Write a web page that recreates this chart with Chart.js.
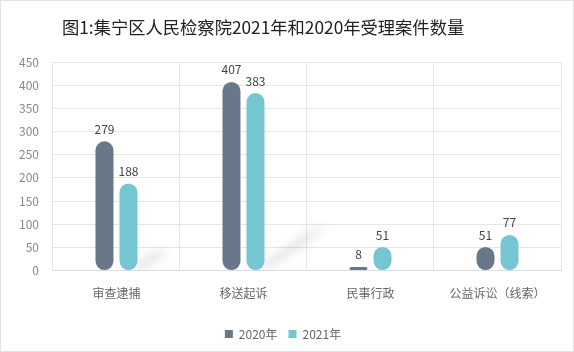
<!DOCTYPE html>
<html>
<head>
<meta charset="utf-8">
<script src="https://cdn.jsdelivr.net/npm/chart.js@4"></script>
<style>
    html, body { margin: 0; padding: 0; background: #fff; }
    .frame { position: relative; width: 572px; height: 350px; border: 1px solid #e2e2e2; }
    .title {
        position: absolute; left: 61px; top: 14px;
        font: 17.3px "Noto Sans CJK SC", "Noto Sans", sans-serif;
        color: #222; white-space: nowrap; line-height: 24px;
    }
    canvas { display: block; }
</style>
</head>
<body>
<div class="frame">
    <canvas id="caseChart" width="572" height="350"></canvas>
    <div class="title">图1:集宁区人民检察院2021年和2020年受理案件数量</div>
</div>
<script>
    const categories = ['审查逮捕', '移送起诉', '民事行政', '公益诉讼（线索）'];
    const values2020 = [279, 407, 8, 51];
    const values2021 = [188, 383, 51, 77];
    const yTicks = [0, 50, 100, 150, 200, 250, 300, 350, 400, 450];

    const CJK = '"Noto Sans CJK SC", "Noto Sans", sans-serif';

    // soft diagonal shadow behind the right-hand bar of each group
    const barShadows = {
        id: 'barShadows',
        beforeDatasetsDraw(chart) {
            const ctx = chart.ctx;
            const meta = chart.getDatasetMeta(1);
            ctx.save();
            ctx.beginPath();
            ctx.rect(chart.chartArea.left, chart.chartArea.top, chart.chartArea.width, chart.chartArea.height);
            ctx.clip();
            ctx.filter = 'blur(5px)';
            meta.data.forEach(bar => {
                const h = bar.base - bar.y;
                if (h < 40) return;
                const x0 = bar.x + bar.width / 2 - 4;
                const y0 = bar.base - 3;
                const dx = h * 0.35, dy = h * 0.27;
                const grad = ctx.createLinearGradient(x0, y0, x0 + dx, y0 - dy);
                grad.addColorStop(0, 'rgba(0, 0, 0, 0.14)');
                grad.addColorStop(0.6, 'rgba(0, 0, 0, 0.10)');
                grad.addColorStop(1, 'rgba(0, 0, 0, 0.02)');
                ctx.fillStyle = grad;
                ctx.beginPath();
                ctx.moveTo(x0, y0);
                ctx.lineTo(x0 + dx, y0 - dy);
                ctx.lineTo(x0 + dx + 4, y0 - dy + 12);
                ctx.lineTo(x0 + 6, y0 + 2);
                ctx.closePath();
                ctx.fill();
            });
            ctx.restore();
        }
    };

    // value labels above each bar
    const valueLabels = {
        id: 'valueLabels',
        afterDatasetsDraw(chart) {
            const ctx = chart.ctx;
            ctx.save();
            ctx.font = '12px ' + CJK;
            ctx.fillStyle = '#444';
            ctx.textAlign = 'center';
            ctx.textBaseline = 'bottom';
            chart.data.datasets.forEach((ds, i) => {
                chart.getDatasetMeta(i).data.forEach((bar, j) => {
                    ctx.fillText(ds.data[j], bar.x, bar.y - 6);
                });
            });
            ctx.restore();
        }
    };

    new Chart(document.getElementById('caseChart'), {
        type: 'bar',
        data: {
            labels: categories,
            datasets: [
                {
                    label: '2020年',
                    data: values2020,
                    backgroundColor: '#68778a',
                    borderRadius: 9,
                    borderSkipped: false
                },
                {
                    label: '2021年',
                    data: values2021,
                    backgroundColor: '#76c5d3',
                    borderRadius: 9,
                    borderSkipped: false
                }
            ]
        },
        options: {
            responsive: false,
            animation: false,
            layout: { padding: { left: 4, right: 12, top: 61, bottom: 1 } },
            datasets: {
                bar: { categoryPercentage: 0.378, barPercentage: 0.75 }
            },
            scales: {
                x: {
                    grid: { color: '#e6e6e6', offset: true, drawTicks: false },
                    border: { color: '#dcdcdc' },
                    ticks: { color: '#666', font: { size: 12, family: CJK }, padding: 16 }
                },
                y: {
                    min: 0,
                    max: 450,
                    afterBuildTicks: axis => { axis.ticks = yTicks.map(v => ({ value: v })); },
                    grid: { color: '#e6e6e6', drawTicks: false },
                    border: { display: false },
                    ticks: { color: '#888', font: { size: 12, family: CJK }, padding: 14 }
                }
            },
            plugins: {
                title: { display: false },
                legend: {
                    position: 'bottom',
                    labels: {
                        color: '#666',
                        font: { size: 12, family: CJK },
                        boxWidth: 8,
                        boxHeight: 8,
                        padding: 11
                    }
                },
                tooltip: { enabled: false }
            }
        },
        plugins: [barShadows, valueLabels]
    });
</script>
</body>
</html>
